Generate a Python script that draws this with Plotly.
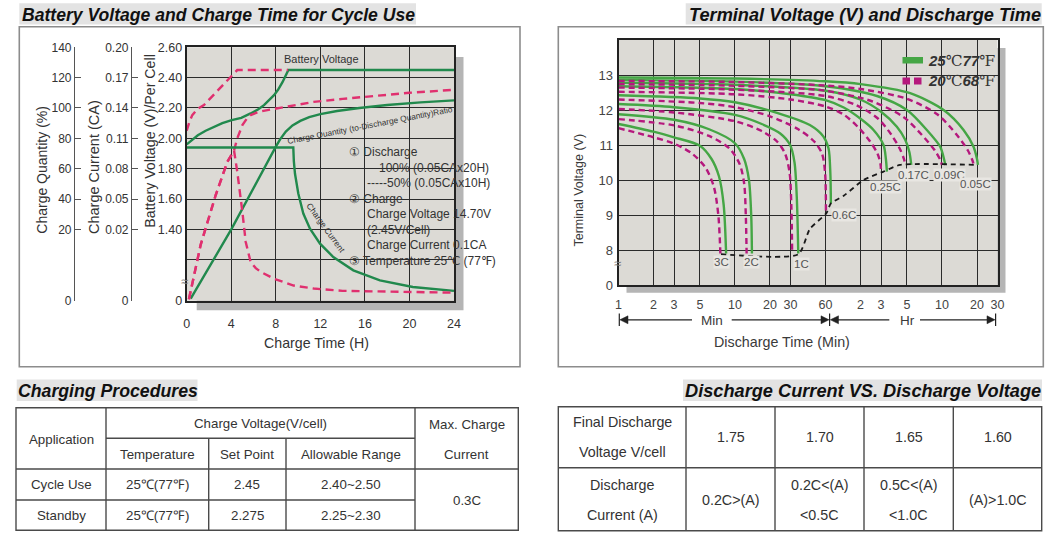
import math
import plotly.graph_objects as go

W, H = 1060, 540
SANS = "Liberation Sans, Arial, Helvetica, sans-serif"
INK = "#333333"


def fx(p):
    return p / W


def fy(p):
    return 1 - p / H


# ================= Left chart: Battery Voltage and Charge Time for Cycle Use =================
# values read on the chart's battery-voltage (V/cell) scale; the bottom of the scale is a broken axis ("0")
HOUR_TICKS = [0, 4, 8, 12, 16, 20, 24]
VOLT_TICKS = [1.40, 1.60, 1.80, 2.00, 2.20, 2.40, 2.60]
VOLT_LABELS = ["1.40", "1.60", "1.80", "2.00", "2.20", "2.40", "2.60"]
QTY_LABELS = ["20", "40", "60", "80", "100", "120", "140"]
CURRENT_LABELS = ["0.02", "0.05", "0.08", "0.11", "0.14", "0.17", "0.20"]
SCALE_BREAK = 0.93
EXTRA_GRID = 1.20

volt100_h = [0, 0.5, 1, 1.7, 2.4, 3.2, 4.04, 4.9, 5.74, 6.4, 6.94, 7.4, 7.84, 8.2, 8.6, 9.13, 24]
volt100_v = [1.96, 1.99, 2.02, 2.05, 2.075, 2.10, 2.12, 2.135, 2.164, 2.19, 2.219, 2.25, 2.285, 2.32, 2.37, 2.45, 2.45]
volt50_h = [0, 0.25, 0.5, 1.0, 1.55, 2.39, 3.44, 4.54, 9.1]
volt50_v = [2.05, 2.11, 2.153, 2.195, 2.22, 2.285, 2.362, 2.45, 2.45]
qty100_h = [0.36, 4.04, 7.99, 8.4, 8.9, 9.5, 10.2, 11.0, 12.0, 13.5, 15.5, 18, 21, 24]
qty100_v = [0.943, 1.405, 1.944, 1.995, 2.045, 2.085, 2.115, 2.14, 2.16, 2.18, 2.20, 2.22, 2.237, 2.25]
qty50_h = [0.2, 1.26, 2.6, 3.65, 4.25, 4.54, 5.0, 5.4, 5.74, 6.5, 7.54, 9.3, 11.4, 14, 17, 20, 24]
qty50_v = [0.94, 1.30, 1.625, 1.845, 1.92, 2.0, 2.087, 2.13, 2.153, 2.175, 2.19, 2.215, 2.24, 2.26, 2.28, 2.30, 2.32]
cur100_h = [0, 9.57, 9.62, 9.72, 10.02, 10.47, 11.07, 11.97, 13.16, 14.96, 17.35, 20.3, 24]
cur100_v = [1.94, 1.94, 1.85, 1.768, 1.636, 1.504, 1.405, 1.306, 1.218, 1.13, 1.064, 1.02, 0.995]
cur50_h = [0.2, 1.26, 2.6, 3.65, 4.25, 4.54, 5.0, 5.3, 5.74, 6.2, 6.64, 7.84, 9.6, 11.4, 14, 17, 20, 24]
cur50_v = [0.94, 1.30, 1.625, 1.845, 1.92, 1.78, 1.515, 1.317, 1.185, 1.145, 1.12, 1.075, 1.03, 1.01, 0.995, 0.99, 0.985, 0.983]

NOTES = ["\u2460 Discharge", "100% (0.05CAx20H)", "-----50% (0.05CAx10H)", "\u2461 Charge",
         "Charge Voltage 14.70V", "(2.45V/Cell)", "Charge Current 0.1CA", "\u2462 Temperature 25\u2103 (77\u2109)"]

# ================= Right chart: Terminal Voltage (V) and Discharge Time =================
MIN_TICKS = [1, 2, 3, 5, 10, 20, 30, 60, 120, 180, 300, 600, 1200, 1800]
MIN_TICK_LABELS = ["1", "2", "3", "5", "10", "20", "30", "60", "2", "3", "5", "10", "20", "30"]
TV_TICKS = [7, 8, 9, 10, 11, 12, 13]
TV_LABELS = ["0", "8", "9", "10", "11", "12", "13"]

RATES = ["3C", "2C", "1C", "0.6C", "0.25C", "0.17C", "0.09C", "0.05C"]

t25_3c = [1, 2, 3, 5, 6.3, 7.3, 8, 8.4]
v25_3c = [11.6, 11.38, 11.22, 10.98, 10.6, 10.1, 9.3, 7.9]
t20_3c = [1, 2, 3, 4.3, 5.6, 6.6, 7.2, 7.5]
v20_3c = [11.48, 11.22, 11.04, 10.75, 10.35, 9.8, 9.0, 7.9]

t25_2c = [1, 3, 6, 10, 12, 13.2, 13.8, 14]
v25_2c = [11.88, 11.72, 11.45, 11.05, 10.6, 10.0, 9.0, 7.9]
t20_2c = [1, 3, 6, 9, 11, 12, 12.4, 12.6]
v20_2c = [11.74, 11.56, 11.26, 10.9, 10.45, 9.9, 9.0, 7.9]

t25_1c = [1, 3, 10, 17, 24.5, 29.8, 32.5, 34, 35]
v25_1c = [12.17, 12.08, 11.86, 11.6, 11.33, 11.0, 10.5, 9.5, 7.9]
t20_1c = [1, 3, 10, 17, 23, 27, 29.5, 30.5, 31]
v20_1c = [12.03, 11.93, 11.68, 11.4, 11.1, 10.75, 10.2, 9.3, 7.9]

t25_06c = [1, 5, 10, 23, 44, 57.6, 63.7, 66, 66.7]
v25_06c = [12.42, 12.33, 12.22, 11.92, 11.57, 11.24, 10.9, 10.2, 9.33]
t20_06c = [1, 5, 10, 20, 35, 48, 56, 59.5, 60.5]
v20_06c = [12.3, 12.2, 12.08, 11.82, 11.45, 11.1, 10.75, 10.2, 9.1]

t25_025c = [1, 10, 30, 60, 86, 120, 155, 189, 198, 202]
v25_025c = [12.68, 12.6, 12.45, 12.28, 12.07, 11.75, 11.43, 11.0, 10.6, 10.24]
t20_025c = [1, 10, 30, 60, 86, 115, 145, 168, 178, 180]
v20_025c = [12.52, 12.45, 12.3, 12.1, 11.87, 11.5, 11.1, 10.75, 10.45, 10.2]

t25_017c = [1, 10, 60, 119, 180, 246, 290, 315, 327]
v25_017c = [12.78, 12.72, 12.55, 12.3, 11.95, 11.52, 11.15, 10.8, 10.43]
t20_017c = [1, 10, 60, 110, 170, 220, 260, 283, 290]
v20_017c = [12.64, 12.58, 12.4, 12.14, 11.75, 11.3, 10.9, 10.6, 10.43]

t25_009c = [1, 10, 60, 166, 300, 445, 580, 625, 640]
v25_009c = [12.86, 12.81, 12.68, 12.4, 12.0, 11.43, 10.95, 10.6, 10.43]
t20_009c = [1, 10, 60, 150, 280, 400, 520, 585, 600]
v20_009c = [12.74, 12.69, 12.55, 12.25, 11.8, 11.3, 10.85, 10.55, 10.43]

t25_005c = [1, 10, 60, 120, 320, 620, 920, 1120, 1200, 1222]
v25_005c = [12.93, 12.9, 12.82, 12.74, 12.48, 12.0, 11.43, 10.95, 10.6, 10.43]
t20_005c = [1, 10, 60, 120, 300, 550, 800, 1000, 1100, 1122]
v20_005c = [12.83, 12.8, 12.7, 12.6, 12.32, 11.87, 11.3, 10.85, 10.55, 10.43]

end_t = [7.6, 35, 44, 61, 66.7, 86, 127, 189, 262, 1222]
end_v = [7.88, 7.88, 8.6, 9.05, 9.33, 9.55, 10.0, 10.24, 10.43, 10.43]

LEGEND_25 = "<b><i>25</i></b><span style='font-family:DejaVu Serif'>\u2103</span><b><i>77</i></b><span style='font-family:DejaVu Serif'>\u2109</span>"
LEGEND_20 = "<b><i>20</i></b><span style='font-family:DejaVu Serif'>\u2103</span><b><i>68</i></b><span style='font-family:DejaVu Serif'>\u2109</span>"

# ================= Tables =================
CHG_HEAD_TOP = ["Application", "Charge Voltage(V/cell)", "Max. Charge\nCurrent"]
CHG_HEAD_SUB = ["Temperature", "Set Point", "Allowable Range"]
CHG_ROW_CYCLE = ["Cycle Use", "25\u2103(77\u2109)", "2.45", "2.40~2.50"]
CHG_ROW_STANDBY = ["Standby", "25\u2103(77\u2109)", "2.275", "2.25~2.30"]
CHG_MAX_CURRENT = "0.3C"

DIS_VOLT_ROW = ["Final Discharge\nVoltage V/cell", "1.75", "1.70", "1.65", "1.60"]
DIS_CURR_ROW = ["Discharge\nCurrent (A)", "0.2C>(A)", "0.2C<(A)\n<0.5C", "0.5C<(A)\n<1.0C", "(A)>1.0C"]

# ================= styles =================
L_GREEN, L_PINK = "#21894d", "#e0306f"
R_GREEN, R_PINK = "#45a645", "#b5187d"
GRID = "#2b2b2b"
PLOT_BG = "#dcdad5"

fig = go.Figure()

# ---- left chart traces ----
left_series = [
    (volt100_h, volt100_v, L_GREEN, None),
    (volt50_h, volt50_v, L_PINK, "8px,5px"),
    (qty100_h, qty100_v, L_GREEN, None),
    (qty50_h, qty50_v, L_PINK, "8px,5px"),
    (cur100_h, cur100_v, L_GREEN, None),
    (cur50_h, cur50_v, L_PINK, "8px,5px"),
]
for xs, ys, col, dash in left_series:
    fig.add_trace(go.Scatter(x=xs, y=ys, mode="lines", xaxis="x", yaxis="y",
                             line=dict(color=col, width=2.4, dash=dash),
                             hoverinfo="skip", showlegend=False))
# placeholders so the two extra left scales are drawn
for ax in ["y2", "y3"]:
    fig.add_trace(go.Scatter(x=[None], y=[None], xaxis="x", yaxis=ax, showlegend=False, hoverinfo="skip"))

# ---- right chart traces ----
right_series = [
    (t20_3c, v20_3c, t25_3c, v25_3c), (t20_2c, v20_2c, t25_2c, v25_2c),
    (t20_1c, v20_1c, t25_1c, v25_1c), (t20_06c, v20_06c, t25_06c, v25_06c),
    (t20_025c, v20_025c, t25_025c, v25_025c), (t20_017c, v20_017c, t25_017c, v25_017c),
    (t20_009c, v20_009c, t25_009c, v25_009c), (t20_005c, v20_005c, t25_005c, v25_005c),
]
for t20, v20, t25, v25 in right_series:
    fig.add_trace(go.Scatter(x=t20, y=v20, mode="lines", xaxis="x2", yaxis="y4",
                             line=dict(color=R_PINK, width=2.4, dash="6px,4px", shape="spline", smoothing=0.8),
                             hoverinfo="skip", showlegend=False))
    fig.add_trace(go.Scatter(x=t25, y=v25, mode="lines", xaxis="x2", yaxis="y4",
                             line=dict(color=R_GREEN, width=2.4, shape="spline", smoothing=0.8),
                             hoverinfo="skip", showlegend=False))
fig.add_trace(go.Scatter(x=end_t, y=end_v, mode="lines", xaxis="x2", yaxis="y4",
                         line=dict(color="#1a1a1a", width=1.8, dash="5px,4px", shape="spline", smoothing=0.6),
                         hoverinfo="skip", showlegend=False))

# ---------------- shapes & annotations ----------------
shapes = []
anns = []


def s_line(x0, y0, x1, y1, color="#222", width=1.2, layer="above"):
    shapes.append(dict(type="line", xref="paper", yref="paper", x0=fx(x0), y0=fy(y0), x1=fx(x1), y1=fy(y1),
                       line=dict(color=color, width=width), layer=layer))


def s_rect(x0, y0, x1, y1, fill=None, color=None, width=0, layer="above"):
    shapes.append(dict(type="rect", xref="paper", yref="paper", x0=fx(x0), y0=fy(y0), x1=fx(x1), y1=fy(y1),
                       fillcolor=fill if fill else "rgba(0,0,0,0)",
                       line=dict(color=color if color else "rgba(0,0,0,0)", width=width), layer=layer))


def s_tri(pts, fill="#222"):
    d = "M " + " L ".join(f"{fx(x):.5f},{fy(y):.5f}" for x, y in pts) + " Z"
    shapes.append(dict(type="path", xref="paper", yref="paper", path=d, fillcolor=fill,
                       line=dict(color=fill, width=0.5), layer="above"))


def text(s, x, y, size=13, color=INK, xa="center", ya="middle", angle=0, family=SANS, bg=None):
    anns.append(dict(text=s, x=fx(x), y=fy(y), xref="paper", yref="paper", showarrow=False,
                     xanchor=xa, yanchor=ya, textangle=angle,
                     font=dict(size=size, color=color, family=family),
                     bgcolor=bg if bg else "rgba(0,0,0,0)", borderpad=0))


# drop shadows, then the plot-area backgrounds on top of them
s_rect(196.7, 57, 463.5, 310.3, fill="#b5b5b5", layer="below")
s_rect(626.5, 48, 1005.5, 292.7, fill="#b5b5b5", layer="below")
s_rect(186.7, 47.3, 454, 300.7, fill=PLOT_BG, layer="below")
s_rect(618.5, 40, 997.5, 285, fill=PLOT_BG, layer="below")
# frames around the two charts
s_rect(19.3, 26.7, 520, 366.7, color="#8c8c8c", width=1.6)
s_rect(558.3, 26.7, 1043.3, 366.7, color="#8c8c8c", width=1.6)

# section titles
TITLE_BG = "#e3e3e3"
s_rect(19.3, 3.3, 416, 24.5, fill=TITLE_BG, layer="below")
s_rect(685.7, 3.3, 1041.7, 24.5, fill=TITLE_BG, layer="below")
s_rect(16.7, 379.5, 197.5, 401, fill=TITLE_BG, layer="below")
s_rect(683, 379.5, 1042, 401, fill=TITLE_BG, layer="below")
text("<b><i>Battery Voltage and Charge Time for Cycle Use</i></b>", 20.5, 14.5, size=17.6, color="#111", xa="left")
text("<b><i>Terminal Voltage (V) and Discharge Time</i></b>", 1041.5, 14.5, size=18.2, color="#111", xa="right")
text("<b><i>Charging Procedures</i></b>", 17, 390.5, size=17.7, color="#111", xa="left")
text("<b><i>Discharge Current VS. Discharge Voltage</i></b>", 1041.5, 390.5, size=18.2, color="#111", xa="right")

# left chart axis titles and notes
text("Charge Quantity (%)", 41.7, 170, size=14, angle=-90)
text("Charge Current (CA)", 94, 167, size=14.5, angle=-90)
text("Battery Voltage (V)/Per Cell", 150, 141.7, size=14.2, angle=-90)
text("Charge Time (H)", 316, 342.5, size=14.2)
text("\u2248", 184, 281, size=13, color="#777")
text("Battery Voltage", 321.7, 59, size=11)
text("Charge Quantity (to-Discharge Quantity)Ratio", 370, 125, size=8.3, angle=-11)
text("Charge Current", 325.8, 228.3, size=8.5, angle=54)
note_pos = [(348, 152.3), (378.3, 168.3), (365.7, 183.3), (348, 199.3),
            (365.7, 214.3), (365.7, 229.8), (365.7, 245.3), (348, 260.7)]
for s, (x, y) in zip(NOTES, note_pos):
    text(s, x, y, size=12, xa="left")

# right chart axis titles, arrows and legend
text("Terminal Voltage (V)", 578.5, 190, size=12.5, color="#3a3a3a", angle=-90)
text("Discharge Time (Min)", 781.7, 341.7, size=14.3, color="#3a3a3a")
text("\u2248", 617, 263.3, size=13, color="#777")
ARW = 319.8
s_line(619.3, 313.5, 619.3, 326)
s_tri([(619.8, ARW), (628, ARW - 4), (628, ARW + 4)])
s_line(627, ARW, 692, ARW)
text("Min", 711.7, ARW + 0.5, size=13.5, color="#3a3a3a")
s_line(731.7, ARW, 822, ARW)
s_tri([(829, ARW), (821, ARW - 4), (821, ARW + 4)])
s_line(829.6, 313.5, 829.6, 326)
s_tri([(830.3, ARW), (838.5, ARW - 4), (838.5, ARW + 4)])
s_line(838, ARW, 889.3, ARW)
text("Hr", 907.5, ARW + 0.5, size=13.5, color="#3a3a3a")
s_line(920, ARW, 988, ARW)
s_tri([(995, ARW), (987, ARW - 4), (987, ARW + 4)])
s_line(995.6, 313.5, 995.6, 326)

s_rect(902.5, 57, 923, 63.5, fill=R_GREEN)
s_rect(902.5, 77.5, 910, 84.5, fill=R_PINK)
s_rect(914, 77.5, 921.5, 84.5, fill=R_PINK)
text(LEGEND_25, 927, 60.5, size=15, color="#333", xa="left")
text(LEGEND_20, 927, 81, size=15, color="#333", xa="left")

# rate labels next to each curve end (data-anchored)
label_shift = [(-5, -8), (0, -8), (3, -10), (13, -11.5), (-1, -15), (2, -10), (4, -10), (-2, -19)]
for rate, (t20, v20, t25, v25), (dx, dy) in zip(RATES, right_series, label_shift):
    anns.append(dict(text=rate, x=math.log10(t25[-1]), y=v25[-1], xref="x2", yref="y4", showarrow=False,
                     xshift=dx, yshift=dy, xanchor="center", yanchor="middle",
                     font=dict(size=11.5, color="#555", family=SANS), bgcolor="#e8e6e2", borderpad=0))

# ---- charging procedures table ----
TC = "#4a4a4a"
s_rect(16, 407.7, 518.3, 530.3, color=TC, width=1.4)
s_line(106, 438.3, 415, 438.3, TC, 1.4)
s_line(16, 469, 518.3, 469, TC, 1.4)
s_line(16, 500, 415, 500, TC, 1.4)
s_line(106, 407.7, 106, 530.3, TC, 1.4)
s_line(208.7, 438.3, 208.7, 530.3, TC, 1.4)
s_line(286, 438.3, 286, 530.3, TC, 1.4)
s_line(415, 407.7, 415, 530.3, TC, 1.4)
TS = 13.3
text(CHG_HEAD_TOP[0], 61, 439, size=TS)
text(CHG_HEAD_TOP[1], 260.5, 423, size=TS)
for i, part in enumerate(CHG_HEAD_TOP[2].split("\n")):
    text(part, 466.7, 424.5 + 29.5 * i, size=TS)
sub_x = [157.3, 247.3, 350.5]
for s, x in zip(CHG_HEAD_SUB, sub_x):
    text(s, x, 454, size=TS)
row_x = [61, 157.3, 247.3, 350.5]
for s, x in zip(CHG_ROW_CYCLE, row_x):
    text(s, x, 484.5, size=TS)
for s, x in zip(CHG_ROW_STANDBY, row_x):
    text(s, x, 515, size=TS)
text(CHG_MAX_CURRENT, 466.7, 500, size=TS)

# ---- discharge current vs voltage table ----
s_rect(558.3, 406.7, 1041.7, 530.7, color=TC, width=1.4)
s_line(558.3, 467.7, 1041.7, 467.7, TC, 1.4)
for x in [686, 775, 864, 953.3]:
    s_line(x, 406.7, x, 530.7, TC, 1.4)
col_x = [622, 730.5, 819.5, 908.7, 997.5]
for row, yc in [(DIS_VOLT_ROW, 437.3), (DIS_CURR_ROW, 499.5)]:
    for s, x in zip(row, col_x):
        parts = s.split("\n")
        if len(parts) == 1:
            text(s, x, yc, size=14.3)
        else:
            text(parts[0], x, yc - 15, size=14.3)
            text(parts[1], x, yc + 15, size=14.3)

# ---------------- layout ----------------
common_grid = dict(showgrid=True, gridcolor=GRID, gridwidth=1.1, zeroline=False,
                   showline=True, mirror=True, linecolor="#222", linewidth=2, ticks="")
fig.update_layout(
    width=W, height=H, margin=dict(l=0, r=0, t=0, b=0),
    paper_bgcolor="white", plot_bgcolor="rgba(0,0,0,0)", showlegend=False,
    font=dict(family=SANS, color=INK),
    xaxis=dict(domain=[fx(186.7), fx(454)], range=[0, 24], anchor="y",
               tickvals=HOUR_TICKS, tickfont=dict(size=12.5, color=INK),
               ticklabelstandoff=10, automargin=False, **common_grid),
    yaxis=dict(domain=[fy(300.7), fy(47.3)], range=[SCALE_BREAK, 2.60], anchor="x",
               tickvals=[SCALE_BREAK, EXTRA_GRID] + VOLT_TICKS, ticktext=["0", ""] + VOLT_LABELS,
               tickfont=dict(size=12.5, color=INK), ticklabelstandoff=0, automargin=False, **common_grid),
    yaxis2=dict(overlaying="y", anchor="free", position=fx(74), side="left", range=[SCALE_BREAK, 2.60],
                tickvals=[SCALE_BREAK] + VOLT_TICKS, ticktext=["0"] + QTY_LABELS,
                ticks="inside", ticklen=6, tickcolor="#555", tickwidth=1.2,
                showline=True, linecolor="#555", linewidth=1.2, showgrid=False, zeroline=False,
                tickfont=dict(size=12, color=INK), automargin=False),
    yaxis3=dict(overlaying="y", anchor="free", position=fx(131), side="left", range=[SCALE_BREAK, 2.60],
                tickvals=[SCALE_BREAK] + VOLT_TICKS, ticktext=["0"] + CURRENT_LABELS,
                ticks="inside", ticklen=6, tickcolor="#555", tickwidth=1.2,
                showline=True, linecolor="#555", linewidth=1.2, showgrid=False, zeroline=False,
                tickfont=dict(size=12, color=INK), automargin=False),
    xaxis2=dict(domain=[fx(618.5), fx(997.5)], type="log", range=[0, math.log10(1800)], anchor="y4",
                tickvals=MIN_TICKS, ticktext=MIN_TICK_LABELS, tickfont=dict(size=12.5, color="#444"),
                ticklabelstandoff=7, automargin=False, **common_grid),
    yaxis4=dict(domain=[fy(285), fy(40)], range=[7, 14], anchor="x2",
                tickvals=TV_TICKS, ticktext=TV_LABELS, tickfont=dict(size=13, color="#444"),
                ticklabelstandoff=1, automargin=False, **common_grid),
    shapes=shapes,
    annotations=anns,
)

fig.write_html("out.html")
